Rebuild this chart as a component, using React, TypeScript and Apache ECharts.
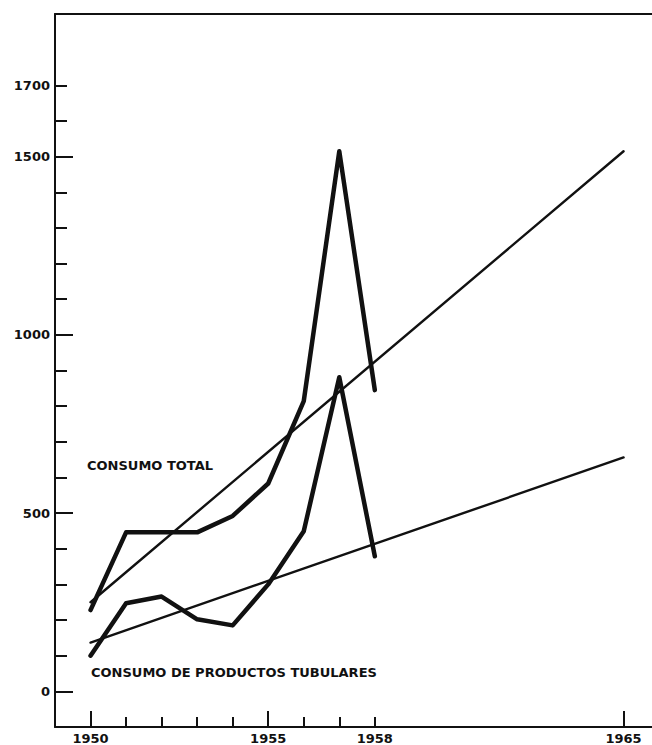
import React, { useEffect, useRef } from 'react';
import * as echarts from 'echarts';

const years = [1950, 1951, 1952, 1953, 1954, 1955, 1956, 1957, 1958];
const consumoTotal = [228, 446, 446, 446, 492, 583, 814, 1515, 845];
const consumoTubulares = [100, 247, 266, 202, 185, 300, 449, 881, 379];
const trendYears = [1950, 1965];
const trendTotal = [250, 1515];
const trendTubulares = [137, 656];

const yLabelValues = [0, 500, 1000, 1500, 1700];
const yMajorTicks = [0, 500, 1000, 1500];
const yMinorTicks = [100, 200, 300, 400, 600, 700, 800, 900, 1100, 1200, 1300, 1400, 1600, 1700];
const xLabelValues = [1950, 1955, 1958, 1965];
const xMajorTicks = [1950, 1955, 1965];
const xMinorTicks = [1951, 1952, 1953, 1954, 1956, 1957, 1958];

const labelTotal = 'CONSUMO TOTAL';
const labelTubulares = 'CONSUMO DE PRODUCTOS TUBULARES';

const INK = '#111111';
const FONT = 'DejaVu Sans';

export default function App() {
  const ref = useRef<HTMLDivElement>(null);

  useEffect(() => {
    if (!ref.current) return;
    const chart = echarts.init(ref.current, undefined, { renderer: 'svg' });

    const heavy = {
      color: INK,
      width: 4.5,
      cap: 'round',
      join: 'round',
    };
    const thin = {
      color: INK,
      width: 2.4,
      cap: 'round',
      join: 'round',
    };

    const xBase = {
      type: 'value',
      min: 1949,
      max: 1965.8,
      splitLine: { show: false },
    };
    const yBase = {
      type: 'value',
      min: -100,
      max: 1900,
      splitLine: { show: false },
    };

    const option: any = {
      animation: false,
      backgroundColor: '#ffffff',
      grid: { left: 55, right: 0, top: 14, bottom: 17, containLabel: false },
      xAxis: [
        {
          ...xBase,
          position: 'bottom',
          axisLine: { show: true, onZero: false, lineStyle: { color: INK, width: 2 } },
          axisTick: {
            show: true,
            inside: true,
            length: 16,
            customValues: xMajorTicks,
            lineStyle: { color: INK, width: 2 },
          },
          axisLabel: {
            show: true,
            customValues: xLabelValues,
            formatter: (v: number) => String(v),
            color: INK,
            fontFamily: FONT,
            fontWeight: 'bold',
            fontSize: 13,
            margin: 5,
          },
        },
        {
          ...xBase,
          position: 'bottom',
          axisLine: { show: false, onZero: false },
          axisTick: {
            show: true,
            inside: true,
            length: 10,
            customValues: xMinorTicks,
            lineStyle: { color: INK, width: 2 },
          },
          axisLabel: { show: false },
        },
        {
          ...xBase,
          position: 'top',
          axisLine: { show: true, onZero: false, lineStyle: { color: INK, width: 2 } },
          axisTick: { show: false },
          axisLabel: { show: false },
        },
      ],
      yAxis: [
        {
          ...yBase,
          position: 'left',
          axisLine: { show: true, onZero: false, lineStyle: { color: INK, width: 2 } },
          axisTick: {
            show: true,
            inside: true,
            length: 18,
            customValues: yMajorTicks,
            lineStyle: { color: INK, width: 2 },
          },
          axisLabel: {
            show: true,
            customValues: yLabelValues,
            formatter: (v: number) => String(v),
            color: INK,
            fontFamily: FONT,
            fontWeight: 'bold',
            fontSize: 13,
            margin: 5,
          },
        },
        {
          ...yBase,
          position: 'left',
          axisLine: { show: false, onZero: false },
          axisTick: {
            show: true,
            inside: true,
            length: 12,
            customValues: yMinorTicks,
            lineStyle: { color: INK, width: 2 },
          },
          axisLabel: { show: false },
        },
      ],
      series: [
        {
          name: 'Tendencia consumo total',
          type: 'line',
          xAxisIndex: 0,
          yAxisIndex: 0,
          symbol: 'none',
          data: trendYears.map((y, i) => [y, trendTotal[i]]),
          lineStyle: thin,
          z: 2,
        },
        {
          name: 'Tendencia consumo de productos tubulares',
          type: 'line',
          xAxisIndex: 0,
          yAxisIndex: 0,
          symbol: 'none',
          data: trendYears.map((y, i) => [y, trendTubulares[i]]),
          lineStyle: thin,
          z: 2,
        },
        {
          name: 'Consumo total',
          type: 'line',
          xAxisIndex: 0,
          yAxisIndex: 0,
          symbol: 'none',
          data: years.map((y, i) => [y, consumoTotal[i]]),
          lineStyle: heavy,
          z: 3,
        },
        {
          name: 'Consumo de productos tubulares',
          type: 'line',
          xAxisIndex: 0,
          yAxisIndex: 0,
          symbol: 'none',
          data: years.map((y, i) => [y, consumoTubulares[i]]),
          lineStyle: heavy,
          z: 3,
        },
      ],
      graphic: [
        {
          type: 'text',
          x: 87,
          y: 465,
          style: {
            text: labelTotal,
            fill: INK,
            font: `bold 13px "${FONT}"`,
            textAlign: 'left',
            textVerticalAlign: 'middle',
          },
        },
        {
          type: 'text',
          x: 91,
          y: 672,
          style: {
            text: labelTubulares,
            fill: INK,
            font: `bold 13px "${FONT}"`,
            textAlign: 'left',
            textVerticalAlign: 'middle',
          },
        },
      ],
    };

    chart.setOption(option);
    return () => {
      chart.dispose();
    };
  }, []);

  return (
    <div
      ref={ref}
      style={{ position: 'absolute', left: 0, top: 0, width: 652, height: 745, background: '#fff' }}
    />
  );
}
